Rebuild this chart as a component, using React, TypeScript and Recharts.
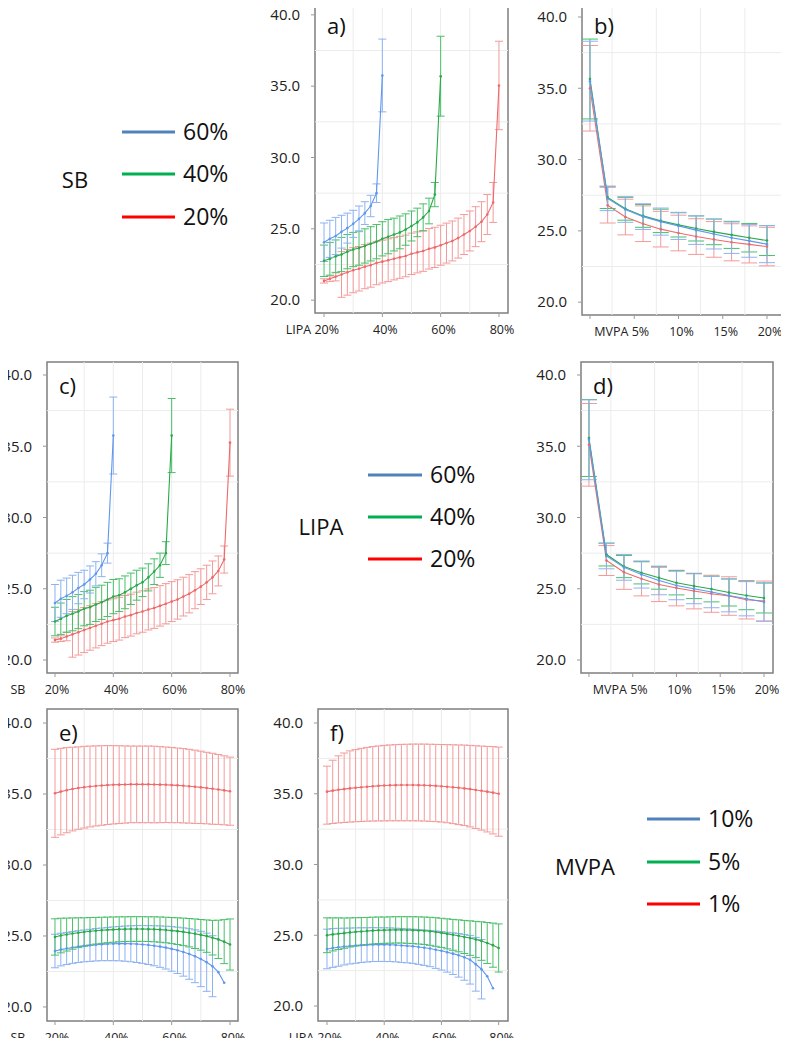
import React from "react";
import {
  LineChart,
  Line,
  XAxis,
  YAxis,
  ErrorBar,
  ReferenceLine,
  ReferenceArea,
} from "recharts";

const FONT = '"Open Sans", sans-serif';

// x values (% of the day)
const pct20to40 = [20, 22, 24, 26, 28, 30, 32, 34, 36, 38, 40];
const pct20to60 = [20, 22, 24, 26, 28, 30, 32, 34, 36, 38, 40, 42, 44, 46, 48, 50, 52, 54, 56, 58, 60];
const pct20to78 = [20, 22, 24, 26, 28, 30, 32, 34, 36, 38, 40, 42, 44, 46, 48, 50, 52, 54, 56, 58, 60, 62, 64, 66, 68, 70, 72, 74, 76, 78];
const pct20to80 = [20, 22, 24, 26, 28, 30, 32, 34, 36, 38, 40, 42, 44, 46, 48, 50, 52, 54, 56, 58, 60, 62, 64, 66, 68, 70, 72, 74, 76, 78, 80];
const mvpaSteps = [0, 2, 4, 6, 8, 10, 12, 14, 16, 18, 20];

const pctTicks = [20, 40, 60, 80];
const pctTickLabels = ["20%", "40%", "60%", "80%"];
const mvpaTicks = [0, 5, 10, 15, 20];
const mvpaTickLabels = ["", "5%", "10%", "15%", "20%"];
const yTicks = [20, 25, 30, 35, 40];

const sbLevels = ["60%", "40%", "20%"];
const lipaLevels = ["60%", "40%", "20%"];
const mvpaLevels = ["10%", "5%", "1%"];

// a) SB fixed, LIPA on x
const aRed = [21.35, 21.5, 21.65, 21.8, 21.95, 22.1, 22.2, 22.35, 22.45, 22.6, 22.7, 22.8, 22.9, 23.0, 23.1, 23.25, 23.35, 23.45, 23.6, 23.7, 23.85, 24.0, 24.15, 24.35, 24.6, 24.85, 25.15, 25.5, 26.0, 26.85, 35.05];
const aRedErr = [0.15, 0.2, 0.3, 1.6, 1.6, 1.58, 1.56, 1.55, 1.54, 1.52, 1.5, 1.5, 1.48, 1.47, 1.46, 1.45, 1.44, 1.43, 1.42, 1.41, 1.4, 1.4, 1.4, 1.4, 1.4, 1.4, 1.4, 1.4, 1.4, 1.4, 3.1];
const aGreen = [22.76, 22.9, 23.07, 23.2, 23.4, 23.55, 23.65, 23.8, 23.95, 24.1, 24.3, 24.45, 24.6, 24.75, 24.95, 25.2, 25.45, 25.8, 26.25, 27.4, 35.7];
const aGreenErr = [1.1, 1.15, 1.15, 1.2, 1.2, 1.2, 1.2, 1.2, 1.2, 1.2, 1.2, 1.2, 1.15, 1.15, 1.1, 1.05, 1.0, 0.95, 0.9, 0.85, 2.8];
const aBlue = [24.06, 24.3, 24.5, 24.8, 25.05, 25.35, 25.7, 26.1, 26.6, 27.5, 35.75];
const aBlueErr = [1.35, 1.3, 1.3, 1.15, 1.05, 0.95, 0.9, 0.8, 0.75, 0.65, 2.55];

// b) SB fixed, MVPA on x
const bRed = [35.0, 26.8, 25.97, 25.5, 25.12, 24.85, 24.6, 24.4, 24.2, 24.05, 23.9];
const bRedErr = [3.0, 1.25, 1.25, 1.25, 1.25, 1.25, 1.25, 1.25, 1.3, 1.3, 1.35];
const bBlue = [35.5, 27.27, 26.5, 26.0, 25.65, 25.35, 25.05, 24.78, 24.52, 24.3, 24.07];
const bBlueErr = [2.8, 0.85, 0.9, 0.9, 0.95, 0.95, 1.0, 1.05, 1.1, 1.15, 1.3];
const bGreen = [35.65, 27.35, 26.55, 26.05, 25.7, 25.42, 25.17, 24.93, 24.72, 24.52, 24.32];
const bGreenErr = [2.8, 0.78, 0.8, 0.8, 0.82, 0.85, 0.88, 0.9, 0.95, 1.0, 1.05];

// c) LIPA fixed, SB on x
const cRed = [21.4, 21.5, 21.65, 21.8, 21.95, 22.1, 22.25, 22.4, 22.55, 22.7, 22.8, 22.9, 23.05, 23.15, 23.3, 23.4, 23.55, 23.65, 23.8, 23.95, 24.1, 24.25, 24.45, 24.65, 24.9, 25.15, 25.45, 25.8, 26.25, 27.05, 35.25];
const cRedErr = [0.15, 0.2, 0.3, 1.6, 1.6, 1.58, 1.56, 1.55, 1.54, 1.52, 1.5, 1.5, 1.48, 1.47, 1.46, 1.45, 1.44, 1.43, 1.42, 1.41, 1.4, 1.38, 1.36, 1.34, 1.3, 1.25, 1.2, 1.15, 1.05, 0.95, 2.35];
const cGreen = [22.7, 22.9, 23.1, 23.25, 23.4, 23.6, 23.7, 23.9, 24.05, 24.25, 24.45, 24.55, 24.75, 25.0, 25.25, 25.45, 25.8, 26.2, 26.65, 27.5, 35.75];
const cGreenErr = [1.0, 1.1, 1.15, 1.2, 1.2, 1.2, 1.2, 1.2, 1.2, 1.2, 1.2, 1.15, 1.15, 1.1, 1.05, 1.0, 0.95, 0.9, 0.85, 0.8, 2.6];
const cBlue = [24.0, 24.3, 24.5, 24.75, 25.05, 25.3, 25.65, 26.05, 26.65, 27.5, 35.75];
const cBlueErr = [1.3, 1.3, 1.25, 1.2, 1.1, 1.0, 0.95, 0.85, 0.8, 0.7, 2.7];

// d) LIPA fixed, MVPA on x
const dRed = [35.1, 26.98, 26.16, 25.7, 25.3, 25.05, 24.84, 24.65, 24.49, 24.23, 24.14];
const dRedErr = [2.9, 1.05, 1.2, 1.2, 1.2, 1.25, 1.25, 1.3, 1.35, 1.35, 1.4];
const dBlue = [35.45, 27.3, 26.5, 26.0, 25.58, 25.23, 25.0, 24.77, 24.53, 24.3, 24.07];
const dBlueErr = [2.8, 0.9, 0.9, 0.95, 1.0, 1.0, 1.05, 1.1, 1.15, 1.2, 1.35];
const dGreen = [35.58, 27.4, 26.56, 26.12, 25.77, 25.42, 25.19, 24.98, 24.74, 24.53, 24.35];
const dGreenErr = [2.7, 0.8, 0.78, 0.78, 0.8, 0.85, 0.88, 0.9, 0.95, 1.0, 1.05];

// e) MVPA fixed, SB on x
const eRed = [35.05, 35.17, 35.27, 35.35, 35.42, 35.48, 35.53, 35.57, 35.6, 35.63, 35.65, 35.66, 35.67, 35.68, 35.68, 35.68, 35.68, 35.67, 35.66, 35.65, 35.63, 35.61, 35.58, 35.55, 35.51, 35.47, 35.42, 35.37, 35.32, 35.26, 35.2];
const eRedErr = [3.1, 3.05, 3.0, 2.95, 2.9, 2.88, 2.85, 2.82, 2.8, 2.78, 2.76, 2.74, 2.72, 2.7, 2.7, 2.7, 2.7, 2.7, 2.68, 2.66, 2.65, 2.63, 2.62, 2.6, 2.58, 2.55, 2.52, 2.5, 2.46, 2.43, 2.4];
const eBlue = [23.94, 24.04, 24.12, 24.19, 24.25, 24.3, 24.34, 24.38, 24.41, 24.43, 24.45, 24.46, 24.46, 24.45, 24.43, 24.4, 24.36, 24.31, 24.25, 24.18, 24.09, 23.99, 23.87, 23.73, 23.57, 23.38, 23.15, 22.87, 22.45, 21.7];
const eBlueErr = [1.18, 1.15, 1.13, 1.12, 1.12, 1.12, 1.13, 1.14, 1.15, 1.17, 1.19, 1.21, 1.24, 1.27, 1.3, 1.33, 1.37, 1.41, 1.46, 1.51, 1.57, 1.63, 1.7, 1.78, 1.86, 1.95, 2.05, 2.15, null, null];
const eGreen = [24.93, 25.03, 25.1, 25.17, 25.23, 25.28, 25.33, 25.37, 25.4, 25.43, 25.45, 25.47, 25.48, 25.49, 25.49, 25.49, 25.48, 25.47, 25.45, 25.42, 25.38, 25.34, 25.29, 25.23, 25.16, 25.08, 24.99, 24.88, 24.76, 24.6, 24.4];
const eGreenErr = [1.28, 1.22, 1.16, 1.1, 1.05, 1.0, 0.97, 0.94, 0.92, 0.9, 0.89, 0.88, 0.87, 0.87, 0.87, 0.87, 0.87, 0.88, 0.89, 0.9, 0.92, 0.94, 0.97, 1.0, 1.04, 1.08, 1.14, 1.22, 1.35, 1.55, 1.8];

// f) MVPA fixed, LIPA on x
const fRed = [35.15, 35.22, 35.28, 35.33, 35.38, 35.42, 35.46, 35.5, 35.53, 35.56, 35.58, 35.6, 35.61, 35.62, 35.62, 35.62, 35.61, 35.6, 35.58, 35.56, 35.53, 35.5, 35.46, 35.42, 35.38, 35.33, 35.27, 35.21, 35.15, 35.08, 35.0];
const fRedDown = [2.3, 2.32, 2.34, 2.36, 2.38, 2.4, 2.42, 2.44, 2.46, 2.48, 2.5, 2.51, 2.52, 2.53, 2.53, 2.53, 2.53, 2.53, 2.53, 2.53, 2.53, 2.55, 2.57, 2.6, 2.63, 2.67, 2.72, 2.78, 2.85, 2.92, 3.0];
const fRedUp = [1.8, 2.15, 2.4, 2.55, 2.65, 2.7, 2.75, 2.78, 2.8, 2.82, 2.84, 2.85, 2.86, 2.87, 2.88, 2.89, 2.9, 2.91, 2.92, 2.93, 2.95, 2.97, 3.0, 3.03, 3.06, 3.09, 3.12, 3.16, 3.2, 3.25, 3.3];
const fBlue = [24.03, 24.1, 24.15, 24.2, 24.24, 24.27, 24.3, 24.32, 24.34, 24.34, 24.34, 24.33, 24.31, 24.28, 24.25, 24.22, 24.17, 24.12, 24.06, 23.98, 23.9, 23.8, 23.7, 23.58, 23.44, 23.27, 22.95, 22.6, 22.1, 21.25];
const fBlueErr = [1.4, 1.37, 1.34, 1.3, 1.27, 1.25, 1.23, 1.21, 1.2, 1.19, 1.19, 1.19, 1.19, 1.2, 1.2, 1.21, 1.23, 1.25, 1.28, 1.32, 1.36, 1.41, 1.47, 1.54, 1.62, 1.72, 1.9, 2.1, null, null];
const fGreen = [25.0, 25.06, 25.11, 25.15, 25.2, 25.24, 25.27, 25.3, 25.33, 25.35, 25.36, 25.37, 25.38, 25.38, 25.37, 25.36, 25.34, 25.32, 25.28, 25.23, 25.17, 25.1, 25.03, 24.96, 24.88, 24.8, 24.7, 24.59, 24.45, 24.3, 24.1];
const fGreenErr = [1.23, 1.17, 1.12, 1.07, 1.03, 1.0, 0.98, 0.96, 0.95, 0.94, 0.93, 0.93, 0.93, 0.93, 0.94, 0.95, 0.96, 0.97, 0.99, 1.01, 1.03, 1.06, 1.09, 1.13, 1.17, 1.22, 1.28, 1.36, 1.45, 1.56, 1.7];

type Err = number | [number, number] | null;
type Palette = { line: string; err: string };

const BLUE: Palette = { line: "#5f97ee", err: "#8db2f2" };
const GREEN: Palette = { line: "#2aa84a", err: "#49bf69" };
const RED: Palette = { line: "#ee6a6a", err: "#f39a9a" };
const legendColors = ["#4f81bd", "#00b050", "#ff0000"];

type Series = { x: number[]; y: number[]; err: Err[]; c: Palette };

type PanelSpec = {
  letter: string;
  left: number;
  top: number;
  w: number;
  h: number;
  xDomain: [number, number];
  yDomain: [number, number];
  xTicks: number[];
  xTickLabels: string[];
  axisName: string;
  nameApart: boolean;
  vGrid: number[];
  cap: number;
  series: Series[];
};

const hGrid = [22.5, 27.5, 32.5, 37.5];
const pctGrid = [30, 40, 50, 60, 70];
const mvpaGrid = [2.5, 7.5, 12.5, 17.5];

const both = (lo: number[], hi: number[]): Err[] => lo.map((l, i) => [l, hi[i]]);

const panels: PanelSpec[] = [
  {
    letter: "a)", left: 315, top: 2, w: 193, h: 311,
    xDomain: [16.9, 83.1], yDomain: [19.1, 40.9],
    xTicks: pctTicks, xTickLabels: pctTickLabels, axisName: "LIPA", nameApart: false,
    vGrid: pctGrid, cap: 4,
    series: [
      { x: pct20to80, y: aRed, err: aRedErr, c: RED },
      { x: pct20to60, y: aGreen, err: aGreenErr, c: GREEN },
      { x: pct20to40, y: aBlue, err: aBlueErr, c: BLUE },
    ],
  },
  {
    letter: "b)", left: 582, top: 2, w: 205, h: 313,
    xDomain: [-0.9, 22.26], yDomain: [19.1, 41.05],
    xTicks: mvpaTicks, xTickLabels: mvpaTickLabels, axisName: "MVPA", nameApart: false,
    vGrid: mvpaGrid, cap: 8,
    series: [
      { x: mvpaSteps, y: bRed, err: bRedErr, c: RED },
      { x: mvpaSteps, y: bGreen, err: bGreenErr, c: GREEN },
      { x: mvpaSteps, y: bBlue, err: bBlueErr, c: BLUE },
    ],
  },
  {
    letter: "c)", left: 47, top: 362, w: 191, h: 311,
    xDomain: [17.26, 82.74], yDomain: [19.09, 40.91],
    xTicks: pctTicks, xTickLabels: pctTickLabels, axisName: "SB", nameApart: true,
    vGrid: pctGrid, cap: 4,
    series: [
      { x: pct20to80, y: cRed, err: cRedErr, c: RED },
      { x: pct20to60, y: cGreen, err: cGreenErr, c: GREEN },
      { x: pct20to40, y: cBlue, err: cBlueErr, c: BLUE },
    ],
  },
  {
    letter: "d)", left: 581, top: 362, w: 192, h: 311,
    xDomain: [-0.91, 21.03], yDomain: [19.09, 40.91],
    xTicks: mvpaTicks, xTickLabels: mvpaTickLabels, axisName: "MVPA", nameApart: false,
    vGrid: mvpaGrid, cap: 8,
    series: [
      { x: mvpaSteps, y: dRed, err: dRedErr, c: RED },
      { x: mvpaSteps, y: dGreen, err: dGreenErr, c: GREEN },
      { x: mvpaSteps, y: dBlue, err: dBlueErr, c: BLUE },
    ],
  },
  {
    letter: "e)", left: 47, top: 709, w: 191, h: 312,
    xDomain: [17.26, 82.74], yDomain: [19.01, 40.99],
    xTicks: pctTicks, xTickLabels: pctTickLabels, axisName: "SB", nameApart: true,
    vGrid: pctGrid, cap: 4,
    series: [
      { x: pct20to80, y: eRed, err: eRedErr, c: RED },
      { x: pct20to78, y: eBlue, err: eBlueErr, c: BLUE },
      { x: pct20to80, y: eGreen, err: eGreenErr, c: GREEN },
    ],
  },
  {
    letter: "f)", left: 318, top: 709, w: 190, h: 312,
    xDomain: [16.86, 83.26], yDomain: [18.94, 40.99],
    xTicks: pctTicks, xTickLabels: pctTickLabels, axisName: "LIPA", nameApart: false,
    vGrid: pctGrid, cap: 4,
    series: [
      { x: pct20to80, y: fRed, err: both(fRedDown, fRedUp), c: RED },
      { x: pct20to78, y: fBlue, err: fBlueErr, c: BLUE },
      { x: pct20to80, y: fGreen, err: fGreenErr, c: GREEN },
    ],
  },
];

// room left of the frame for the y labels, right of it for the last x label
const Y_W = 50;
const PAD_R = 22;

function XTick(props: any) {
  const { x, y, payload, spec } = props;
  const p: PanelSpec = spec;
  const i = p.xTicks.indexOf(payload.value);
  const label = p.xTickLabels[i];
  if (!label) return <g />;
  const firstIdx = p.xTickLabels.findIndex((l) => l !== "");
  const common = { y, dy: "0.71em", fontSize: 12.5, fontFamily: FONT, fill: "#222" };
  if (i === firstIdx && p.nameApart) {
    return (
      <g>
        <text x={x - 37} textAnchor="middle" {...common}>{p.axisName}</text>
        <text x={x + 2} textAnchor="middle" {...common}>{label}</text>
      </g>
    );
  }
  if (i === firstIdx) {
    return <text x={x + 15} textAnchor="end" {...common}>{`${p.axisName} ${label}`}</text>;
  }
  return <text x={x + 3} textAnchor="middle" {...common}>{label}</text>;
}

function Panel({ p }: { p: PanelSpec }) {
  return (
    <div style={{ position: "absolute", left: p.left - Y_W, top: p.top - 2 }}>
      <LineChart
        width={p.w + Y_W + PAD_R}
        height={p.h + 32}
        margin={{ top: 2, right: PAD_R, bottom: 0, left: 0 }}
        style={{ overflow: "visible" }}
      >
        <XAxis
          type="number"
          dataKey="x"
          domain={p.xDomain}
          allowDataOverflow
          ticks={p.xTicks}
          interval={0}
          height={30}
          axisLine={false}
          tickLine={{ stroke: "#9a9a9a" }}
          tickSize={4}
          tickMargin={8}
          tick={(props: any) => <XTick {...props} spec={p} />}
        />
        <YAxis
          type="number"
          domain={p.yDomain}
          allowDataOverflow
          ticks={yTicks}
          interval={0}
          width={Y_W}
          axisLine={false}
          tickLine={{ stroke: "#9a9a9a" }}
          tickSize={4}
          tickMargin={11}
          tickFormatter={(v: number) => v.toFixed(1)}
          tick={{ fontSize: 15, fontFamily: FONT, fill: "#222" }}
        />
        {hGrid.map((v) => (
          <ReferenceLine key={"h" + v} y={v} stroke="#ececec" strokeWidth={1} />
        ))}
        {p.vGrid.map((v) => (
          <ReferenceLine key={"v" + v} x={v} stroke="#ececec" strokeWidth={1} />
        ))}
        {p.series.map((s, si) => (
          <Line
            key={si}
            data={s.x.map((x, i) => ({ x, y: s.y[i], err: s.err[i] }))}
            dataKey="y"
            type="linear"
            stroke={s.c.line}
            strokeWidth={1.1}
            dot={{ r: 1.3, fill: s.c.line, stroke: "none" }}
            activeDot={false}
            isAnimationActive={false}
          >
            <ErrorBar
              dataKey="err"
              direction="y"
              width={p.cap}
              stroke={s.c.err}
              strokeWidth={1}
              isAnimationActive={false}
            />
          </Line>
        ))}
        <ReferenceArea
          x1={p.xDomain[0]}
          x2={p.xDomain[1]}
          y1={p.yDomain[0]}
          y2={p.yDomain[1]}
          fill="none"
          fillOpacity={0}
          stroke="#7f7f7f"
          strokeWidth={1.5}
          ifOverflow="visible"
        />
      </LineChart>
    </div>
  );
}

type LegendSpec = { title: string; levels: string[]; titleX: number; titleY: number; x1: number; x2: number; ys: number[] };

const legends: LegendSpec[] = [
  { title: "SB", levels: sbLevels, titleX: 75, titleY: 188, x1: 122, x2: 175, ys: [132, 174, 217] },
  { title: "LIPA", levels: lipaLevels, titleX: 321, titleY: 535, x1: 368, x2: 422, ys: [475, 517, 559] },
  { title: "MVPA", levels: mvpaLevels, titleX: 585, titleY: 875, x1: 647, x2: 700, ys: [819, 862, 904] },
];

export default function App() {
  return (
    <div style={{ position: "relative", width: 789, height: 1046, margin: -8, background: "#fff", overflow: "hidden" }}>
      {panels.map((p) => (
        <Panel key={p.letter} p={p} />
      ))}
      <svg width={789} height={1046} style={{ position: "absolute", left: 0, top: 0, pointerEvents: "none" }}>
        {panels.map((p) => (
          <text key={p.letter} x={p.left + 12} y={p.top + 32} fontSize={22} fontFamily={FONT} fill="#111">
            {p.letter}
          </text>
        ))}
        {legends.map((lg) => (
          <g key={lg.title}>
            <text x={lg.titleX} y={lg.titleY} textAnchor="middle" fontSize={22} fontFamily={FONT} fill="#111">
              {lg.title}
            </text>
            {lg.levels.map((lv, i) => (
              <g key={lv}>
                <line x1={lg.x1} x2={lg.x2} y1={lg.ys[i]} y2={lg.ys[i]} stroke={legendColors[i]} strokeWidth={3.2} />
                <text x={lg.x2 + 8} y={lg.ys[i] + 8} fontSize={23} fontFamily={FONT} fill="#111">
                  {lv}
                </text>
              </g>
            ))}
          </g>
        ))}
      </svg>
    </div>
  );
}
